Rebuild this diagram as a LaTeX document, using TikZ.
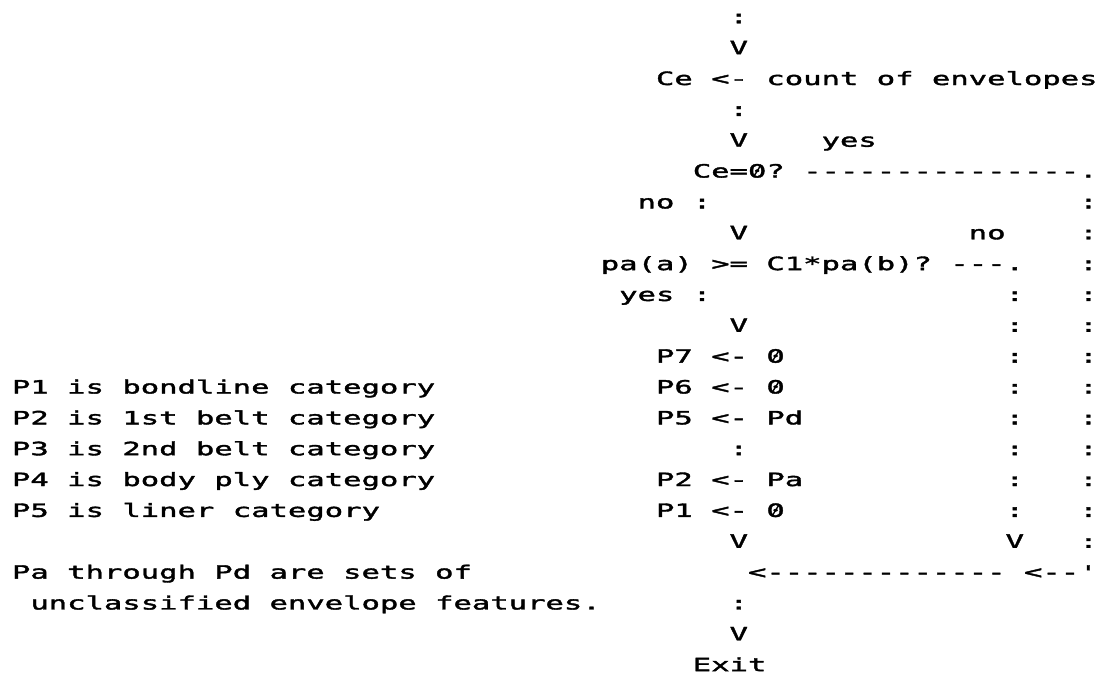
\documentclass[tikz,border=0pt]{standalone}
\usepackage{fontspec}
% wide, low monospace face in the style of a dot-matrix printout
\newfontfamily\dotmatrix[FakeStretch=1.67,FakeBold=2]{DejaVu Sans Mono}
% zero with a diagonal bar through it, as the printer sets it
\newcommand\slz{\rlap{0}\makebox[18.4pt][c]{\raisebox{6.6pt}{\makebox[0pt][c]{\rotatebox[origin=c]{58}{\rule[-0.7pt]{14pt}{1.4pt}}}}}}
\begin{document}
\begin{tikzpicture}[x=18.4pt,y=-30.85pt,
  txt/.style={anchor=base west, inner sep=0pt, outer sep=0pt,
    font=\dotmatrix\fontsize{18.3}{18.3}\selectfont, text=black}]
\useasboundingbox (0pt,0pt) rectangle (1100pt,-677pt);
\fill[white] (0pt,0pt) rectangle (1100pt,-677pt);
% character grid: x = column, y = line
\begin{scope}[shift={(12pt,-23.3pt)}]
  % main flow
  \node[txt] (in1)   at (39,0) {:};
  \node[txt] (in2)   at (39,1) {V};
  \node[txt] (count) at (35,2) {Ce <- count of envelopes};
  \node[txt] (c1)    at (39,3) {:};
  \node[txt] (c2)    at (39,4) {V};
  \node[txt] (yes1)  at (44,4) {yes};
  \node[txt] (test1) at (37,5) {Ce=\slz?};
  \node[txt] (yline) at (43,5) {---------------.};
  \node[txt] (no1)   at (34,6) {no :};
  \node[txt] (d1)    at (39,7) {V};
  \node[txt] (no2)   at (52,7) {no};
  \node[txt] (test2) at (32,8) {pa(a) >= C1*pa(b)?};
  \node[txt] (nline) at (51,8) {---.};
  \node[txt] (yes2)  at (33,9) {yes :};
  \node[txt] (d2)    at (39,10) {V};
  \node[txt] (s7)    at (35,11) {P7 <- \slz};
  \node[txt] (s6)    at (35,12) {P6 <- \slz};
  \node[txt] (s5)    at (35,13) {P5 <- Pd};
  \node[txt] (sdots) at (39,14) {:};
  \node[txt] (s2)    at (35,15) {P2 <- Pa};
  \node[txt] (s1)    at (35,16) {P1 <- \slz};
  \node[txt] (d3)    at (39,17) {V};
  \node[txt] (join1) at (40,18) {<-------------};
  \node[txt] (e1)    at (39,19) {:};
  \node[txt] (e2)    at (39,20) {V};
  \node[txt] (exit)  at (37,21) {Exit};
  % "no" branch of the ratio test
  \foreach \r in {9,...,16} \node[txt] (nb\r) at (54,\r) {:};
  \node[txt] (nbv)   at (54,17) {V};
  % "yes" branch of the zero test
  \foreach \r in {6,...,17} \node[txt] (yb\r) at (58,\r) {:};
  \node[txt] (join2) at (55,18) {<--'};
  % legend
  \node[txt] (k1) at (0,12) {P1 is bondline category};
  \node[txt] (k2) at (0,13) {P2 is 1st belt category};
  \node[txt] (k3) at (0,14) {P3 is 2nd belt category};
  \node[txt] (k4) at (0,15) {P4 is body ply category};
  \node[txt] (k5) at (0,16) {P5 is liner category};
  \node[txt] (k6) at (0,18) {Pa through Pd are sets of};
  \node[txt] (k7) at (1,19) {unclassified envelope features.};
\end{scope}
\end{tikzpicture}
\end{document}
